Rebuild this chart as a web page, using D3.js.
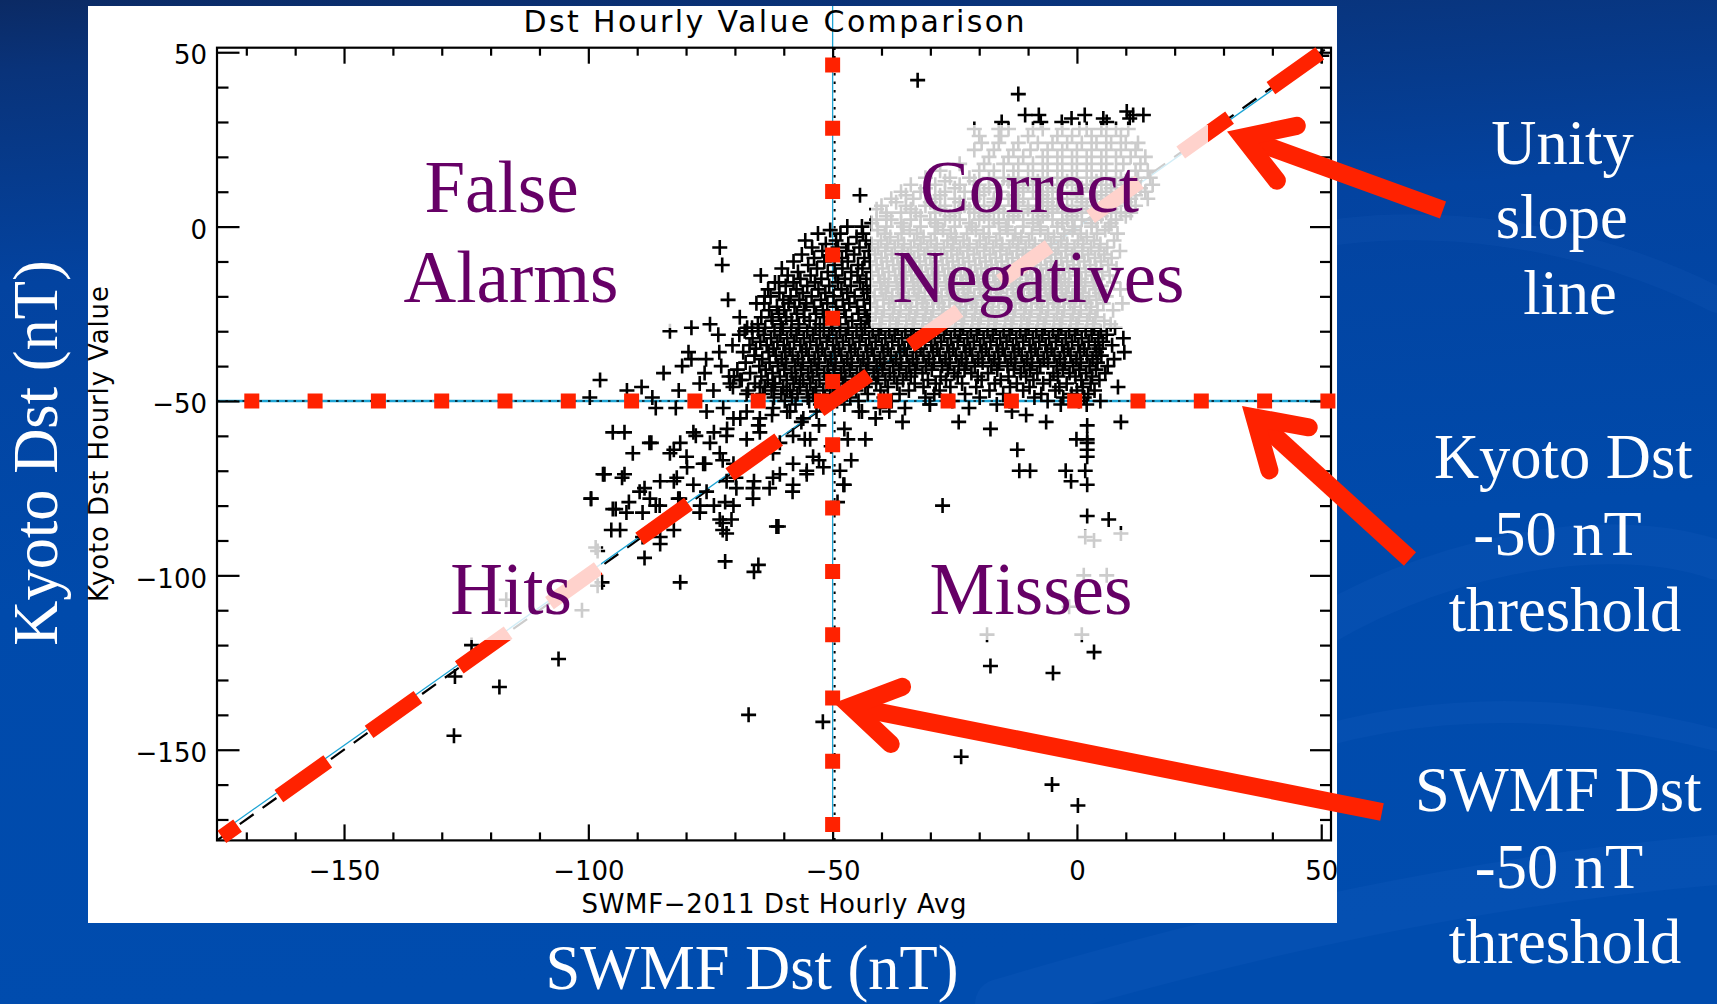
<!DOCTYPE html>
<html>
<head>
<meta charset="utf-8">
<title>Dst Hourly Value Comparison</title>
<script src="https://cdn.jsdelivr.net/npm/d3@7"></script>
<style>
  html, body { margin: 0; padding: 0; background: #004aab; overflow: hidden; }
  svg { display: block; }
</style>
</head>
<body>
<svg id="chart" width="1717" height="1004"></svg>
<script>
// ---------- axis setup ----------
const xDomain = [-176, 52];
const yDomain = [-176, 51.3];
const majorTicks = [-150, -100, -50, 0, 50];
const minorTicks = [-170, -160, -140, -130, -120, -110, -90, -80, -70, -60, -40, -30, -20, -10, 10, 20, 30, 40];
const threshold = -50;
const titleText = "Dst Hourly Value Comparison";
const xTitle = "SWMF\u22122011 Dst Hourly Avg";
const yTitle = "Kyoto Dst Hourly Value";

// reference lines, [SWMF, Kyoto]
const unityLine = [[-176, -176], [51.3, 51.3]];
const fitLine = [[-174, -172.5], [49.7, 48.8]];
const unityHighlight = [[49.7, 49.7], [-175, -175]];

// ---------- hourly pairs ----------
// quiet-time band: Kyoto value (nT) followed by the SWMF values paired with it
const upperRows = [
  [28, [-21, -16, -14, -9, -7, -3, 0.5, 2, 5, 8, 10.5]],
  [26, [-20, -15.5, -10, -4, -1, 3, 6, 9]],
  [24, [-19.5, -16, -12, -8, -5, -2, 1, 4, 7, 10, 12.5]],
  [22, [-21, -17, -13, -9.5, -6, -3, 0, 3, 6, 9, 12]],
  [20, [-18, -14, -11, -7, -4, -1, 2, 5, 8, 11, 14]],
  [18, [-24, -19, -15, -12, -9, -6, -3, 0, 3, 6, 9.5, 13]],
  [16, [-28, -20, -17, -13, -10, -7, -4, -1, 2, 5, 8, 12, 14.5]],
  [14, [-31, -26, -22, -18, -15, -12, -9, -6, -3, 0, 3, 6, 9, 12.5, 15]],
  [13, [-27, -21, -14, -8, -2, 4, 10]],
  [12, [-34, -29, -24, -20, -16.5, -13, -10, -7, -4, -1, 2, 5, 8, 11, 15.5]],
  [11, [-31, -25, -18, -11, -5, 1, 7, 13]],
  [10, [-36, -32, -27, -23, -19, -15.5, -12, -9, -6, -3, 0, 3, 6, 10, 14]],
  [9, [-35, -28, -20, -13, -7, 0, 5, 12]],
  [8, [-38, -33.5, -29, -25, -21, -17, -14, -11, -8, -5, -2, 1, 4, 7, 11, 14.5]],
  [7, [-37, -30, -24, -17, -12, -6, 1, 6, 10]],
  [6, [-40, -35, -31, -27, -23, -19, -16, -13, -10, -7, -4, -1, 2, 5, 8, 12]],
  [5, [-41, -34, -28, -22, -16, -10, -5, 1, 7]],
  [4, [-39, -36, -33, -29, -25, -21, -18, -15, -12, -9, -6, -3, 0, 3, 6, 9, 11]],
  [3, [-39, -32, -26, -19, -13, -7, -1, 5, 10]],
  [2, [-41, -38, -34, -30, -27, -24, -20, -17, -14, -11, -8, -5, -2, 1, 4, 8]],
  [1, [-42, -36, -29, -22, -16, -9, -3, 3, 7]]
];

const mainRows = [
  [0, [-47, -44, -39, -35.5, -32, -28.5, -25, -21.5, -18, -14.5, -11, -7.5, -4, -0.5, 3, 6.5]],
  [-1, [-50.5, -40.8, -34.2, -27.4, -20.7, -14.2, -7.5, -0.9, 5.8]],
  [-2, [-53, -48.4, -43.8, -39.3, -35.9, -32.7, -29.1, -25.8, -22.5, -19.1, -15.8, -12.6, -9.2, -5.9, -2.6, 0.8, 4.1, 8.3]],
  [-3, [-45.1, -38.2, -31.4, -24.8, -18, -11.4, -4.7, 2]],
  [-4, [-55.6, -49.3, -43.2, -40.1, -36.6, -33.3, -29.9, -26.5, -23.2, -19.9, -16.5, -13.1, -9.8, -6.5, -3.2, 0.2, 3.5, 7.6]],
  [-5, [-51.4, -46.8, -42, -38.8, -35.4, -32, -28.7, -25.3, -22, -18.6, -15.3, -12, -8.6, -5.3, -2, 1.3, 4.8]],
  [-6, [-54.2, -48.9, -44.5, -40.7, -37.3, -34, -30.6, -27.2, -23.9, -20.5, -17.1, -13.8, -10.5, -7.1, -3.8, -0.5, 2.9, 6.2]],
  [-7, [-52.1, -47.2, -42.6, -39.2, -35.8, -32.5, -29.1, -25.7, -22.4, -19, -15.7, -12.3, -9, -5.6, -2.3, 1.1, 4.5, 8.8]],
  [-8, [-56.3, -50, -45.6, -41.3, -37.9, -34.6, -31.2, -27.8, -24.5, -21.1, -17.8, -14.4, -11.1, -7.7, -4.4, -1, 2.3, 5.6]],
  [-9, [-53.8, -48.1, -43.5, -40, -36.7, -33.3, -30, -26.6, -23.3, -19.9, -16.6, -13.2, -9.9, -6.5, -3.2, 0.3, 3.7, 7.1]],
  [-10, [-58, -51.7, -46.9, -42.4, -38.9, -35.5, -32.2, -28.8, -25.4, -22.1, -18.7, -15.4, -12, -8.7, -5.3, -2, 1.5, 4.9]],
  [-11, [-55, -49.6, -44.8, -41, -37.6, -34.3, -30.9, -27.5, -24.2, -20.8, -17.5, -14.1, -10.8, -7.4, -4.1, -0.7, 2.7, 6.4]],
  [-12, [-60.4, -53.2, -48, -43.9, -39.8, -36.4, -33.1, -29.7, -26.3, -23, -19.6, -16.3, -12.9, -9.6, -6.2, -2.9, 0.5, 3.9, 8.1]],
  [-13, [-57.1, -51, -46.2, -42.1, -38.5, -35.1, -31.8, -28.4, -25, -21.7, -18.3, -15, -11.6, -8.3, -4.9, -1.6, 1.8, 5.2]],
  [-14, [-59.2, -54.5, -49.4, -44.9, -40.6, -37.2, -33.9, -30.5, -27.1, -23.8, -20.4, -17.1, -13.7, -10.4, -7, -3.7, -0.3, 3.1, 6.7]],
  [-15, [-56.6, -52.3, -47.5, -43.1, -39.4, -36, -32.6, -29.3, -25.9, -22.6, -19.2, -15.9, -12.5, -9.2, -5.8, -2.5, 0.9, 4.3]],
  [-16, [-61.8, -58, -53.6, -48.9, -44.4, -40.3, -36.9, -33.5, -30.2, -26.8, -23.4, -20.1, -16.7, -13.4, -10, -6.7, -3.3, 0, 3.4, 7.5]],
  [-17, [-59.6, -55.2, -50.7, -46.3, -42.2, -38.6, -35.2, -31.9, -28.5, -25.1, -21.8, -18.4, -15.1, -11.7, -8.4, -5, -1.7, 1.7, 5]],
  [-18, [-63.2, -57.4, -52.9, -48.2, -43.8, -40, -36.6, -33.3, -29.9, -26.5, -23.2, -19.8, -16.5, -13.1, -9.8, -6.4, -3.1, 0.4, 3.8, 8.9]],
  [-19, [-60.9, -56.1, -51.5, -47, -42.9, -39.1, -35.7, -32.4, -29, -25.6, -22.3, -18.9, -15.6, -12.2, -8.9, -5.5, -2.2, 1.2, 4.6]],
  [-20, [-62.7, -58.6, -54.3, -49.8, -45.5, -41.4, -37.8, -34.4, -31.1, -27.7, -24.3, -21, -17.6, -14.3, -10.9, -7.6, -4.2, -0.9, 2.5, 6]],
  [-21, [-60.1, -56.8, -52.4, -47.9, -43.6, -39.6, -36.2, -32.8, -29.5, -26.1, -22.8, -19.4, -16.1, -12.7, -9.4, -6, -2.7, 0.7, 4]],
  [-22, [-64, -59, -55.4, -51.1, -46.6, -42.3, -38.4, -35, -31.6, -28.3, -24.9, -21.5, -18.2, -14.8, -11.5, -8.1, -4.8, -1.4, 1.9, 5.4, 9.3]],
  [-23, [-61.4, -57.8, -53.8, -49.3, -45, -40.9, -37.4, -34, -30.7, -27.3, -23.9, -20.6, -17.2, -13.9, -10.5, -7.2, -3.8, -0.5, 2.9]],
  [-24, [-63, -59.9, -55.9, -52, -47.6, -43.4, -39.5, -36.1, -32.7, -29.4, -26, -22.7, -19.3, -16, -12.6, -9.3, -5.9, -2.6, 0.8, 4.2, 7.4]],
  [-25, [-61, -57.3, -53.4, -49, -44.7, -41.2, -37.7, -34.3, -31, -27.6, -24.2, -20.9, -17.5, -14.2, -10.8, -7.5, -4.1, -0.8, 2.6]],
  [-26, [-64.6, -59.5, -55.8, -51.8, -47.3, -43, -39.9, -36.5, -33.1, -29.8, -26.4, -23.1, -19.7, -16.4, -13, -9.7, -6.3, -3, 0.4, 3.8]],
  [-27, [-62.3, -58.4, -54.7, -50.3, -46, -42.5, -38.3, -34.9, -31.5, -28.2, -24.8, -21.4, -18.1, -14.7, -11.4, -8, -4.7, -1.3, 2.1, 5.6]],
  [-28, [-65.3, -60.6, -56.9, -52.6, -48.5, -44.2, -40.4, -37, -33.6, -30.3, -26.9, -23.6, -20.2, -16.9, -13.5, -10.2, -6.8, -3.5, -0.1, 3.3, 6.9]]
];

const lowerRows = [
  [-29, [-67.5, -63.8, -60.2, -56.9, -53.5, -50.1, -46.8, -43.4, -40.1, -36.7, -33.4, -30, -26.7, -23.3, -20, -16.6, -13.3, -9.9, -6.6, -3.2, 0.1, 3.5, 7.8]],
  [-30, [-65.2, -61.9, -58.5, -55.2, -51.8, -48.5, -45.1, -41.8, -38.4, -35.1, -31.7, -28.4, -25, -21.7, -18.3, -15, -11.6, -8.3, -4.9, -1.6, 1.8, 4.9]],
  [-31, [-69.1, -64.1, -60.7, -57.4, -54, -50.7, -47.3, -44, -40.6, -37.3, -33.9, -30.6, -27.2, -23.9, -20.5, -17.2, -13.8, -10.5, -7.1, -3.8, -0.4, 3, 6.1]],
  [-32, [-66.4, -62.6, -59.3, -55.9, -52.6, -49.2, -45.9, -42.5, -39.2, -35.8, -32.5, -29.1, -25.8, -22.4, -19.1, -15.7, -12.4, -9, -5.7, -2.3, 1, 4.4, 9.5]],
  [-33, [-64.8, -61.3, -57.9, -54.6, -51.2, -47.9, -44.5, -41.2, -37.8, -34.5, -31.1, -27.8, -24.4, -21.1, -17.7, -14.4, -11, -7.7, -4.3, -1, 2.4, 5.3]],
  [-34, [-67, -63.5, -60, -56.6, -53.3, -49.9, -46.6, -43.2, -39.9, -36.5, -33.2, -29.8, -26.5, -23.1, -19.8, -16.4, -13.1, -9.7, -6.4, -3, 0.3, 3.7, 7.2]],
  [-35, [-65.7, -62.1, -58.8, -55.4, -52.1, -48.7, -45.4, -42, -38.7, -35.3, -32, -28.6, -25.3, -21.9, -18.6, -15.2, -11.9, -8.5, -5.2, -1.8, 1.5, 4.6]],
  [-36, [-68.3, -63.1, -59.7, -56.3, -53, -49.6, -46.3, -42.9, -39.6, -36.2, -32.9, -29.5, -26.2, -22.8, -19.5, -16.1, -12.8, -9.4, -6.1, -2.7, 0.6, 4, 9.7]],
  [-37, [-66, -61.6, -58.2, -54.9, -51.5, -48.2, -44.8, -41.5, -38.1, -34.8, -31.4, -28.1, -24.7, -21.4, -18, -14.7, -11.3, -8, -4.6, -1.3, 2.1, 5]],
  [-38, [-64.4, -60.4, -57.1, -53.7, -50.4, -47, -43.7, -40.3, -37, -33.6, -30.3, -26.9, -23.6, -20.2, -16.9, -13.5, -10.2, -6.8, -3.5, -0.1, 3.2, 7.6]],
  [-39, [-67.8, -62.9, -59.5, -56.1, -52.8, -49.4, -46.1, -42.7, -39.4, -36, -32.7, -29.3, -26, -22.6, -19.3, -15.9, -12.6, -9.2, -5.9, -2.5, 0.8, 4.2]],
  [-40, [-65, -61.2, -57.7, -54.4, -51, -47.7, -44.3, -41, -37.6, -34.3, -30.9, -27.6, -24.2, -20.9, -17.5, -14.2, -10.8, -7.5, -4.1, -0.8, 2.6, 6.3]],
  [-41, [-69.5, -63.7, -59.9, -56.5, -53.2, -49.8, -46.5, -43.1, -39.8, -36.4, -33.1, -29.7, -26.4, -23, -16.3, -12.9, -9.6, -2.9, 0.5, 3.9]],
  [-42, [-66.9, -62.3, -58.4, -55, -51.7, -48.3, -45, -41.6, -38.3, -34.9, -31.6, -25.1, -21.6, -18.2, -11.5, -8.1, -4.8, -1.5, 1.9, 5.8]],
  [-43, [-71.2, -64.6, -60.8, -57.5, -54.1, -50.8, -47.4, -44.1, -40.7, -37.4, -34, -27.9, -24.4, -20.3, -14, -10.4, -3.9, -0.3, 3.1]],
  [-44, [-68.6, -63.3, -59.4, -56, -52.7, -49.3, -45.9, -42.6, -39.2, -35.6, -30.5, -26.8, -19.5, -15.6, -8.9, -5.5, 0.9, 4.6]],
  [-45, [-65.9, -61.8, -58, -54.6, -51.2, -47.9, -44.5, -41.1, -36.8, -33.2, -28.9, -23.5, -16.8, -12.3, -6.9, -2.1, 2.8]],
  [-46, [-70.4, -63.9, -60.1, -56.7, -53.4, -50, -46.6, -43.3, -38.7, -31.4, -25.9, -20.6, -13.7, -9.7, -3.6, 1.2, 8.4]],
  [-47, [-67.3, -62.5, -58.7, -55.3, -51.9, -48.6, -45.2, -40.2, -34.4, -28.1, -17.9, -11, -4.4, 0, 3.6]],
  [-48, [-64.3, -60.5, -57.2, -53.9, -50.5, -47.1, -42.8, -36.3, -29.2, -22.9, -15.1, -7.3, -1.1, 2.3]],
  [-49, [-62, -58.3, -55.1, -51.6, -46.4, -39.5, -31, -19.9, -8.7, -2.8, 1.5]],
  [-50, [-59.8, -54.8, -49.1, -44.7, -37.9, -25.5, -13.8, -6, 0.4, 4.8]],
  [-51, [-57.6, -52.5, -47.6, -30.1, -16.4, -3.3, 2]]
];

// scattered pairs [SWMF, Kyoto]
const topOutliers = [
  [-32.6, 42], [-12, 38], [-10.6, 32], [-7.8, 32], [-7.4, 30], [-1.1, 31], [1.6, 32], [5.4, 31],
  [6.1, 30], [10.2, 33], [10.8, 31], [11.5, 32], [13.6, 32], [-15.4, 30], [-3.1, 30], [50.1, 49], [-44.4, 9]
];

const alarmSide = [
  [-73.1, -6], [-72.6, -11], [-64.7, -14], [-63.9, -20], [-65.6, -22], [-69, -26], [-71.4, -21], [-75.1, -28],
  [-78.9, -29], [-83.3, -30], [-73.4, -31], [-79.5, -36], [-78.9, -38], [-75.9, -38], [-73.2, -36], [-70.5, -34],
  [-68, -30], [-61, -16], [-62.5, -26], [-66.5, -29], [-97.6, -44], [-99.7, -49], [-89.1, -46], [-77.2, -45],
  [-74.4, -47], [-71, -45], [-69, -44], [-67.6, -48], [-64.9, -46], [-62.2, -45], [-59.4, -47], [-56.7, -45],
  [-54, -48], [-84.6, -42], [-80.8, -40], [-76.2, -42], [-72.8, -40], [-70.2, -43], [-86.9, -49], [-92.1, -47], [-81.5, -47]
];

const stormSide = [
  [-86.2, -52], [-82.1, -52], [-75.8, -53], [-72.4, -52], [-70.3, -55], [-67.6, -53], [-64.9, -55], [-62.2, -52],
  [-58.7, -53], [-56, -55], [-53.3, -53], [-95, -59], [-92.6, -59], [-78.5, -59], [-75.1, -62], [-71.7, -60],
  [-67.6, -61], [-64.9, -59], [-60.8, -62], [-58.1, -60], [-54.6, -61], [-90.9, -65], [-87.5, -62], [-83.3, -65],
  [-79.9, -66], [-76.5, -68], [-73.1, -65], [-70.3, -68], [-66.3, -66], [-62.2, -65], [-58.1, -68], [-54, -66],
  [-51.9, -69], [-97, -71], [-92.6, -71], [-81.9, -72], [-78.5, -74], [-75.8, -76], [-71.7, -73], [-69.7, -75],
  [-66.3, -75], [-62.2, -72], [-58.1, -74], [-55.3, -71], [-48.5, -70], [-47.8, -74], [-99.4, -78], [-95, -81],
  [-85.4, -80], [-81.3, -78], [-77.2, -82], [-73.1, -84], [-70.3, -80], [-66.3, -78], [-61.1, -86], [-71.7, -88],
  [-92.2, -82], [-89.5, -76], [-87.4, -78], [-87.1, -62], [-82.5, -64], [-81.2, -62], [-78, -60], [-74.3, -59],
  [-71.6, -58], [-68.9, -55], [-65.2, -57], [-62.4, -54], [-96.7, -71], [-93.1, -72], [-88.5, -75], [-85.3, -73],
  [-82.5, -73], [-79.8, -69], [-76.1, -68], [-72.5, -67], [-69.8, -72], [-66.1, -73], [-62.9, -75], [-99.5, -78],
  [-94.4, -81], [-91.7, -79], [-88.9, -82], [-86.2, -80], [-81.6, -78], [-77.1, -80], [-74.3, -80], [-72, -79],
  [-95.3, -87], [-93.5, -87], [-88.9, -89], [-85.3, -89], [-82.5, -87], [-72.5, -85], [-70.7, -84], [-88.5, -95],
  [-85.3, -91], [-72.5, -87], [-72, -96], [-66.1, -99], [-65.2, -97], [-61.5, -86], [-81.2, -102], [-97.2, -102],
  [-98.5, -92], [-98.1, -93], [-98.1, -103], [-101.3, -110], [-116.8, -107], [-106.1, -124], [-118.2, -132],
  [-123.9, -120], [-127.3, -129], [-127.5, -146], [-67.2, -140]
];

const missSide = [
  [-59.3, -53], [-56.4, -56], [-55.7, -61], [-55.3, -70], [-52.8, -57], [-52.8, -67], [-47.6, -58], [-46.9, -61],
  [-46.2, -67], [-47.6, -74], [-58.2, -76], [-60.8, -71], [-44, -53], [-40.3, -52], [-43.3, -61], [-35.7, -56],
  [-35.2, -52], [-30.1, -51], [-24.2, -56], [-22.1, -52], [-17.7, -58], [-13.3, -53], [-10.4, -54], [-6.3, -56],
  [2.1, -57], [9, -56], [-0.1, -61], [2.1, -61], [2.1, -62], [2.1, -64], [2.1, -66], [1.7, -70], [2.1, -74],
  [-2.3, -70], [-1.2, -73], [-12.2, -64], [-11.8, -70], [-9.6, -70], [-27.5, -80], [2.1, -83], [6.5, -84],
  [-49, -79], [-50.3, -63], [-44.6, -53], [-41.2, -55], [-38.4, -53],
  [1.7, -89], [3.5, -90], [9, -88], [1.4, -100], [6.1, -100], [-1.6, -109], [-18.4, -117], [1, -117],
  [3.5, -122], [-17.7, -126], [-4.9, -128], [-52, -142], [-23.7, -152], [-5.1, -160], [0.2, -166]
];

// contingency-table quadrant names and side notes
const quadrantLabels = [["False", "Alarms"], ["Correct", "Negatives"], ["Hits"], ["Misses"]];
const sideNotes = [["Unity", "slope", "line"], ["Kyoto Dst", "-50 nT", "threshold"], ["SWMF Dst", "-50 nT", "threshold"]];
const outerXTitle = "SWMF Dst (nT)";
const outerYTitle = "Kyoto Dst (nT)";

// ---------- drawing ----------
const svg = d3.select("#chart");
const W = 1717, H = 1004;
const red = "#ff2200";
const cyan = "#1da4d4";
const purple = "#660066";
const serif = "'Liberation Serif', 'Times New Roman', serif";
const sans = "'DejaVu Sans', Verdana, sans-serif";

const defs = svg.append("defs");
const bg = defs.append("linearGradient").attr("id", "bgGrad")
  .attr("x1", 0).attr("y1", 0).attr("x2", 0.12).attr("y2", 1);
[[0, "#0b2a64"], [0.07, "#09337a"], [0.28, "#0343a0"], [0.6, "#004aab"], [1, "#004cae"]]
  .forEach(([o, c]) => bg.append("stop").attr("offset", o).attr("stop-color", c));

svg.append("rect").attr("width", W).attr("height", H).attr("fill", "url(#bgGrad)");

// faint swirl texture in the background
const swirl = svg.append("g").attr("fill", "none").attr("stroke", "#5f9cff").attr("stroke-linecap", "round");
swirl.append("path").attr("d", "M1250,250 C1420,200 1600,240 1717,300").attr("stroke-width", 26).attr("opacity", 0.05);
swirl.append("path").attr("d", "M1300,640 C1420,560 1600,520 1717,560").attr("stroke-width", 40).attr("opacity", 0.05);
swirl.append("path").attr("d", "M1250,760 C1400,700 1560,700 1717,740").attr("stroke-width", 22).attr("opacity", 0.05);
swirl.append("path").attr("d", "M1000,1004 C1250,930 1480,880 1717,860").attr("stroke-width", 50).attr("opacity", 0.05);

// white plot panel
svg.append("rect").attr("x", 88).attr("y", 6).attr("width", 1249).attr("height", 917).attr("fill", "#ffffff");

const x = d3.scaleLinear().domain(xDomain).range([217, 1331]);
const y = d3.scaleLinear().domain(yDomain).range([840.4, 47.7]);
const line = d3.line().x(d => x(d[0])).y(d => y(d[1]));

// threshold guides
const guides = svg.append("g").attr("fill", "none");
guides.append("path").attr("d", line([[xDomain[0], threshold], [xDomain[1], threshold]]))
  .attr("stroke", cyan).attr("stroke-width", 2.6);
guides.append("path").attr("d", line([[xDomain[0], threshold], [xDomain[1], threshold]]))
  .attr("stroke", "#0b2f3c").attr("stroke-width", 2).attr("stroke-dasharray", "2.5 6");
guides.append("path").attr("d", line([[threshold, yDomain[0]], [threshold, y.invert(6)]]))
  .attr("stroke", cyan).attr("stroke-width", 1.3);
guides.append("path").attr("d", line([[threshold, yDomain[0]], [threshold, yDomain[1]]]))
  .attr("stroke", "#000").attr("stroke-width", 2).attr("stroke-dasharray", "2.5 6")
  .attr("transform", "translate(2,0)");
guides.append("path").attr("d", line(unityLine))
  .attr("stroke", "#000").attr("stroke-width", 2.2).attr("stroke-dasharray", "17 11");
guides.append("path").attr("d", line(fitLine))
  .attr("stroke", cyan).attr("stroke-width", 1.3);

// plus markers
const pairs = [];
[upperRows, mainRows, lowerRows].forEach(rows =>
  rows.forEach(([kyoto, swmfs]) => swmfs.forEach(s => pairs.push([s, kyoto]))));
[topOutliers, alarmSide, stormSide, missSide].forEach(list => list.forEach(p => pairs.push(p)));

svg.append("g").attr("stroke", "#000").attr("stroke-width", 2.6).attr("fill", "none")
  .selectAll("path").data(pairs).join("path")
  .attr("d", d => `M${x(d[0]) - 7.5},${y(d[1])}h15M${x(d[0])},${y(d[1]) - 7.5}v15`);

// axes: ticks point inward on all four sides
function styleAxis(g) {
  g.select(".domain").remove();
  g.selectAll(".tick line").attr("stroke", "#000").attr("stroke-width", 2.2);
  g.selectAll(".tick text").attr("fill", "#000");
}
const axes = svg.append("g").attr("font-family", sans).attr("font-size", 26);
const bottomY = y.range()[0], topY = y.range()[1], leftX = x.range()[0], rightX = x.range()[1];

axes.append("g").attr("transform", `translate(0,${bottomY})`)
  .call(d3.axisBottom(x).tickValues(majorTicks).tickSize(-16).tickSizeOuter(0).tickPadding(21).tickFormat(d3.format("d")))
  .call(styleAxis).attr("font-size", 26).attr("font-family", sans);
axes.append("g").attr("transform", `translate(0,${bottomY})`)
  .call(d3.axisBottom(x).tickValues(minorTicks).tickSize(-8).tickSizeOuter(0).tickFormat(""))
  .call(styleAxis);
axes.append("g").attr("transform", `translate(0,${topY})`)
  .call(d3.axisTop(x).tickValues(majorTicks).tickSize(-16).tickSizeOuter(0).tickFormat(""))
  .call(styleAxis);
axes.append("g").attr("transform", `translate(0,${topY})`)
  .call(d3.axisTop(x).tickValues(minorTicks).tickSize(-8).tickSizeOuter(0).tickFormat(""))
  .call(styleAxis);
const leftAxis = axes.append("g").attr("transform", `translate(${leftX},0)`)
  .call(d3.axisLeft(y).tickValues(majorTicks).tickSize(-22.5).tickSizeOuter(0).tickPadding(10).tickFormat(d3.format("d")))
  .call(styleAxis).attr("font-size", 26).attr("font-family", sans);
leftAxis.selectAll(".tick text").attr("dy", "0.45em");
axes.append("g").attr("transform", `translate(${leftX},0)`)
  .call(d3.axisLeft(y).tickValues(minorTicks).tickSize(-11.5).tickSizeOuter(0).tickFormat(""))
  .call(styleAxis);
axes.append("g").attr("transform", `translate(${rightX},0)`)
  .call(d3.axisRight(y).tickValues(majorTicks).tickSize(-21).tickSizeOuter(0).tickFormat(""))
  .call(styleAxis);
axes.append("g").attr("transform", `translate(${rightX},0)`)
  .call(d3.axisRight(y).tickValues(minorTicks).tickSize(-11).tickSizeOuter(0).tickFormat(""))
  .call(styleAxis);
axes.append("rect").attr("x", leftX).attr("y", topY).attr("width", rightX - leftX).attr("height", bottomY - topY)
  .attr("fill", "none").attr("stroke", "#000").attr("stroke-width", 2.2);

// plot titles
const midX = (leftX + rightX) / 2, midY = (topY + bottomY) / 2;
svg.append("text").text(titleText).attr("x", midX).attr("y", 32.3).attr("text-anchor", "middle")
  .attr("font-family", sans).attr("font-size", 30).attr("textLength", 501).attr("lengthAdjust", "spacing");
svg.append("text").text(xTitle).attr("x", midX).attr("y", 913).attr("text-anchor", "middle")
  .attr("font-family", sans).attr("font-size", 26).attr("textLength", 385).attr("lengthAdjust", "spacing");
svg.append("text").text(yTitle).attr("transform", `translate(108,${midY}) rotate(-90)`).attr("text-anchor", "middle")
  .attr("font-family", sans).attr("font-size", 26).attr("textLength", 316).attr("lengthAdjust", "spacing");

// red annotation overlays: square-dotted thresholds and dashed unity line
const notes = svg.append("g").attr("fill", "none").attr("stroke", red);
notes.append("line").attr("x1", 244.3).attr("x2", 1336).attr("y1", y(threshold)).attr("y2", y(threshold))
  .attr("stroke-width", 15).attr("stroke-dasharray", "15 48.3");
notes.append("line").attr("x1", x(threshold)).attr("x2", x(threshold)).attr("y1", 57.5).attr("y2", 832.3)
  .attr("stroke-width", 15).attr("stroke-dasharray", "15 48.3");
notes.append("path").attr("d", line(unityHighlight))
  .attr("stroke-width", 15).attr("stroke-dasharray", "60 50.8");

// translucent text boxes behind the quadrant names
const boxes = [[338, 125, 337, 203], [871, 125, 337, 203], [421, 530, 180, 110], [906, 530, 250, 110]];
svg.append("g").selectAll("rect").data(boxes).join("rect")
  .attr("x", d => d[0]).attr("y", d => d[1]).attr("width", d => d[2]).attr("height", d => d[3])
  .attr("fill", "#ffffff").attr("opacity", 0.8);

// quadrant names
const quadrantPos = [[[501.5, 212], [511, 301.7]], [[1029.5, 211.7], [1038.5, 301.7]], [[511, 613.5]], [[1031, 613.5]]];
const qg = svg.append("g").attr("font-family", serif).attr("font-size", 73).attr("fill", purple).attr("text-anchor", "middle");
quadrantLabels.forEach((lines, i) => lines.forEach((t, j) =>
  qg.append("text").text(t).attr("x", quadrantPos[i][j][0]).attr("y", quadrantPos[i][j][1])));

// arrows pointing to the reference lines
function arrow(tip, tail) {
  const dx = tail[0] - tip[0], dy = tail[1] - tip[1], L = Math.hypot(dx, dy);
  const ux = dx / L, uy = dy / L;
  const back = 17, arm = 55, half = 32 * Math.PI / 180;
  const vx = tip[0] + ux * back, vy = tip[1] + uy * back;
  const rot = a => [ux * Math.cos(a) - uy * Math.sin(a), ux * Math.sin(a) + uy * Math.cos(a)];
  const a1 = rot(half), a2 = rot(-half);
  const g = svg.append("g").attr("fill", "none").attr("stroke", red).attr("stroke-width", 18);
  g.append("line").attr("x1", vx).attr("y1", vy).attr("x2", tail[0]).attr("y2", tail[1]).attr("stroke-linecap", "butt");
  g.append("path")
    .attr("d", `M${vx + a1[0] * arm},${vy + a1[1] * arm}L${vx},${vy}L${vx + a2[0] * arm},${vy + a2[1] * arm}`)
    .attr("stroke-linecap", "round").attr("stroke-linejoin", "miter").attr("stroke-miterlimit", 4);
}
arrow([1227, 131.5], [1443, 210]);
arrow([1242, 406], [1410, 559]);
arrow([834, 703], [1382, 812]);

// side notes on the slide
const notePos = [
  [[1562.5, 164], [1561.7, 238], [1570, 314]],
  [[1563.3, 478], [1557.5, 555], [1565, 631]],
  [[1558.3, 811], [1559, 888], [1565, 963]]
];
const ng = svg.append("g").attr("font-family", serif).attr("font-size", 62.5).attr("fill", "#ffffff")
  .attr("text-anchor", "middle");
sideNotes.forEach((lines, i) => lines.forEach((t, j) =>
  ng.append("text").text(t).attr("x", notePos[i][j][0]).attr("y", notePos[i][j][1])));

svg.append("text").text(outerXTitle).attr("x", 752).attr("y", 989).attr("text-anchor", "middle")
  .attr("font-family", serif).attr("font-size", 62.5).attr("fill", "#ffffff");
svg.append("text").text(outerYTitle).attr("transform", "translate(57,453) rotate(-90)").attr("text-anchor", "middle")
  .attr("font-family", serif).attr("font-size", 62.5).attr("fill", "#ffffff");
</script>
</body>
</html>
